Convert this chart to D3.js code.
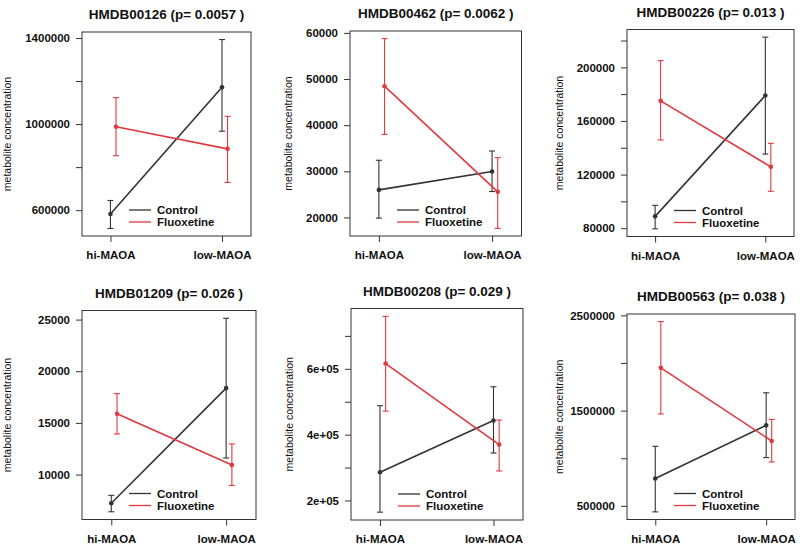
<!DOCTYPE html>
<html>
<head>
<meta charset="utf-8">
<script src="https://cdn.jsdelivr.net/npm/d3@7"></script>
<style>
  body { margin: 0; background: #fff; }
  text { font-family: "Liberation Sans", Arial, sans-serif; fill: #111; }
</style>
</head>
<body>
<div id="chart"></div>
<script>
// metabolites, one panel each
const metabolites = ["HMDB00126", "HMDB00462", "HMDB00226", "HMDB01209", "HMDB00208", "HMDB00563"]
const pValues = ["0.0057", "0.0062", "0.013", "0.026", "0.029", "0.038"]
const groups = ["hi-MAOA", "low-MAOA"]
const treatments = ["Control", "Fluoxetine"]

// [hi-MAOA, low-MAOA] for each metabolite
const controlMean = [[582000, 1171000], [25970, 29950], [88800, 179000], [7220, 18370], [285800, 443000], [787000, 1345000]]
const controlLow = [[515000, 967000], [19850, 25620], [79500, 135300], [6400, 11600], [164500, 344200], [437000, 1007000]]
const controlHigh = [[645000, 1393000], [32390, 34400], [97000, 222500], [7990, 25130], [488000, 545500], [1125000, 1687000]]

const fluoxMean = [[988000, 885000], [48450, 25540], [175000, 125750], [15880, 10930], [616000, 369700], [1949000, 1181000]]
const fluoxLow = [[853000, 729000], [38010, 17620], [145800, 107500], [13930, 8950], [471500, 289700], [1465000, 961000]]
const fluoxHigh = [[1123000, 1036000], [58770, 32970], [205000, 143300], [17830, 12970], [759400, 444200], [2434000, 1408000]]

// y ticks and the labels R kept
const yTicks = [
    [600000, 800000, 1000000, 1200000, 1400000],
    [20000, 30000, 40000, 50000, 60000],
    [80000, 100000, 120000, 140000, 160000, 180000, 200000, 220000],
    [10000, 15000, 20000, 25000],
    [200000, 300000, 400000, 500000, 600000, 700000],
    [500000, 1000000, 1500000, 2000000, 2500000]
]
const yTickLabels = [
    ["600000", "", "1000000", "", "1400000"],
    ["20000", "30000", "40000", "50000", "60000"],
    ["80000", "", "120000", "", "160000", "", "200000", ""],
    ["10000", "15000", "20000", "25000"],
    ["2e+05", "", "4e+05", "", "6e+05", ""],
    ["500000", "", "1500000", "", "2500000"]
]

// plot boxes (the panels were pasted together, so they differ a little)
const boxes = [
    {x0: 82, x1: 251, y0: 32, y1: 236, ylab: 7},
    {x0: 350, x1: 521.5, y0: 31, y1: 236, ylab: 288},
    {x0: 627, x1: 794, y0: 29.5, y1: 236.5, ylab: 559},
    {x0: 82, x1: 256, y0: 310.5, y1: 519.5, ylab: 7},
    {x0: 351, x1: 523, y0: 308.5, y1: 520, ylab: 289},
    {x0: 627, x1: 795, y0: 314, y1: 519.5, ylab: 559}
]

const red = "#e0393e"
const dark = "#333333"
const dodge = 0.05

let svg = d3.select('#chart')
    .append('svg')
    .attr('width', 800)
    .attr('height', 548)

svg.append('rect')
    .attr('width', 800)
    .attr('height', 548)
    .attr('fill', '#fff')

metabolites.forEach((name, i) => drawPanel(i))

function drawPanel(i) {
    let b = boxes[i]
    let g = svg.append('g')

    // R style ylim: data range padded by 4%
    let all = controlLow[i].concat(controlHigh[i], fluoxLow[i], fluoxHigh[i])
    let lo = d3.min(all), hi = d3.max(all)
    let pad = (hi - lo) * 0.04

    let y = d3.scaleLinear()
        .domain([lo - pad, hi + pad])
        .range([b.y1, b.y0])

    let x = d3.scaleLinear()
        .domain([0.745, 2.26])
        .range([b.x0, b.x1])

    // y axis
    let yAxis = d3.axisLeft(y)
        .tickValues(yTicks[i])
        .tickFormat((d, k) => yTickLabels[i][k])
        .tickSize(6)
        .tickPadding(6)

    let ya = g.append('g')
        .attr('transform', `translate(${b.x0},0)`)
        .call(yAxis)
    ya.select('.domain').remove()
    ya.selectAll('line').attr('stroke', dark)
    ya.selectAll('text')
        .style('font-size', '11.5px')
        .style('font-weight', 'bold')
        .attr('fill', '#111')

    // x axis
    let xAxis = d3.axisBottom(x)
        .tickValues([1, 2])
        .tickFormat((d, k) => groups[k])
        .tickSize(6)
        .tickPadding(9)

    let xa = g.append('g')
        .attr('transform', `translate(0,${b.y1})`)
        .call(xAxis)
    xa.select('.domain').remove()
    xa.selectAll('line').attr('stroke', dark)
    xa.selectAll('text')
        .style('font-size', '11.5px')
        .style('font-weight', 'bold')
        .attr('fill', '#111')

    // frame
    g.append('rect')
        .attr('x', b.x0)
        .attr('y', b.y0)
        .attr('width', b.x1 - b.x0)
        .attr('height', b.y1 - b.y0)
        .attr('fill', 'none')
        .attr('stroke', dark)
        .attr('stroke-width', 1)

    let series = [
        {mean: controlMean[i], low: controlLow[i], high: controlHigh[i], colour: dark, shift: 0},
        {mean: fluoxMean[i], low: fluoxLow[i], high: fluoxHigh[i], colour: red, shift: dodge}
    ]

    series.forEach(s => {
        let pts = s.mean.map((m, k) => ({
            x: x(k + 1 + s.shift),
            y: y(m),
            lo: y(s.low[k]),
            hi: y(s.high[k])
        }))

        g.append('path')
            .datum(pts)
            .attr('d', d3.line().x(d => d.x).y(d => d.y))
            .attr('fill', 'none')
            .attr('stroke', s.colour)
            .attr('stroke-width', 1.6)

        let bars = g.append('g')
            .attr('stroke', s.colour)
            .attr('stroke-width', 1.1)

        bars.selectAll('line.v')
            .data(pts)
            .join('line')
            .attr('x1', d => d.x).attr('x2', d => d.x)
            .attr('y1', d => d.lo).attr('y2', d => d.hi)

        bars.selectAll(null)
            .data(pts.flatMap(d => [{x: d.x, y: d.lo}, {x: d.x, y: d.hi}]))
            .join('line')
            .attr('x1', d => d.x - 3).attr('x2', d => d.x + 3)
            .attr('y1', d => d.y).attr('y2', d => d.y)

        g.selectAll(null)
            .data(pts)
            .join('circle')
            .attr('cx', d => d.x)
            .attr('cy', d => d.y)
            .attr('r', 2.3)
            .attr('fill', s.colour)
    })

    // legend
    treatments.forEach((t, k) => {
        let ly = b.y1 - 26 + k * 12
        g.append('line')
            .attr('x1', b.x0 + 47).attr('x2', b.x0 + 69)
            .attr('y1', ly).attr('y2', ly)
            .attr('stroke', k == 0 ? dark : red)
            .attr('stroke-width', 1.3)
        g.append('text')
            .attr('x', b.x0 + 75)
            .attr('y', ly)
            .attr('dy', '0.35em')
            .style('font-size', '11.5px')
            .style('font-weight', 'bold')
            .text(t)
    })

    // title
    g.append('text')
        .attr('x', (b.x0 + b.x1) / 2)
        .attr('y', b.y0 - 13)
        .attr('text-anchor', 'middle')
        .style('font-size', '13.5px')
        .style('font-weight', 'bold')
        .text(`${metabolites[i]} (p= ${pValues[i]} )`)

    // y title
    g.append('text')
        .attr('transform', `translate(${b.ylab},${(b.y0 + b.y1) / 2}) rotate(-90)`)
        .attr('text-anchor', 'middle')
        .attr('dy', '0.35em')
        .style('font-size', '10.5px')
        .text('metabolite concentration')
}
</script>
</body>
</html>
